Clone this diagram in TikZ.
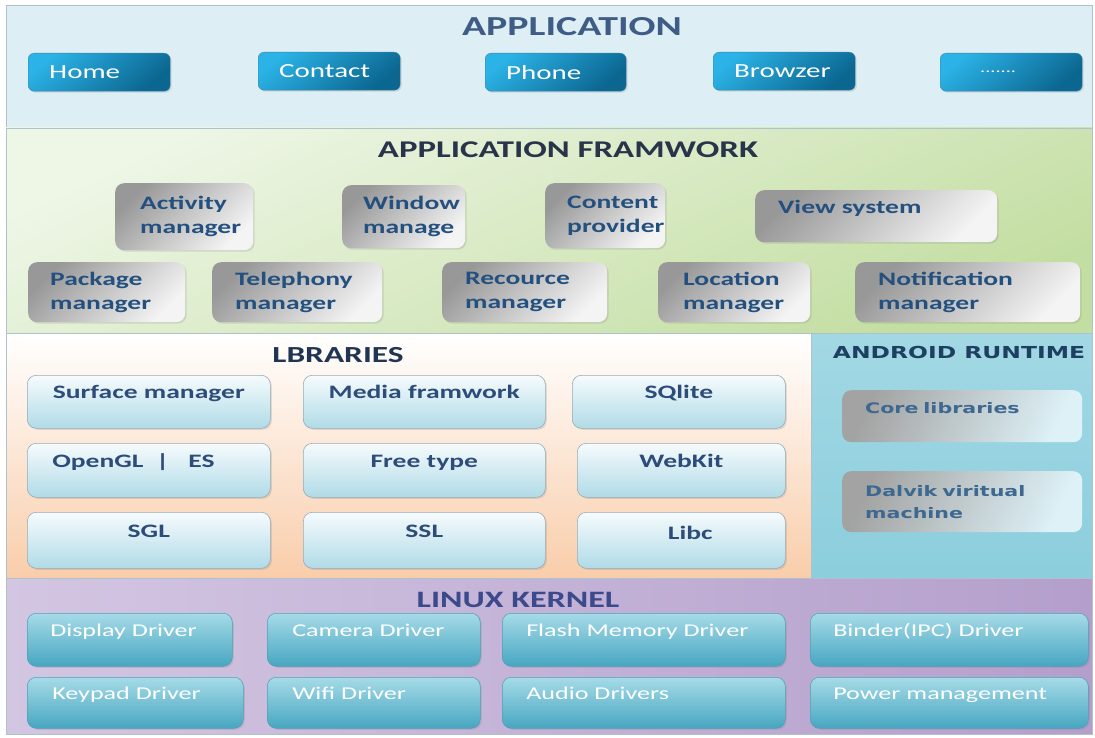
\documentclass[tikz,border=0pt]{standalone}
\usepackage{fontspec}
\setmainfont{Carlito}[FakeStretch=1.45]
\newfontfamily\verd{DejaVu Sans}[FakeStretch=1.42]
\usetikzlibrary{shadows}
\definecolor{appbg}{HTML}{DDEEF4}
\definecolor{layerln}{HTML}{AEC2CC}
\definecolor{appA}{HTML}{2BB2E6}
\definecolor{appB}{HTML}{0B6690}
\definecolor{appT}{HTML}{3E5C85}
\definecolor{fwbgA}{HTML}{EEF6E6}
\definecolor{fwbgB}{HTML}{C3DEA2}
\definecolor{fwA}{HTML}{989898}
\definecolor{fwB}{HTML}{F4F4F4}
\definecolor{fwT}{HTML}{29344A}
\definecolor{fwtxt}{HTML}{24507F}
\definecolor{libbgB}{HTML}{F9CDAA}
\definecolor{libA}{HTML}{F6FBFD}
\definecolor{libB}{HTML}{B0DBE7}
\definecolor{libln}{HTML}{93ADB8}
\definecolor{libT}{HTML}{1F3553}
\definecolor{libtxt}{HTML}{2D4C7A}
\definecolor{rtA}{HTML}{A2D8E4}
\definecolor{rtM}{HTML}{4DADC6}
\definecolor{rtB}{HTML}{8CCEDD}
\definecolor{rtT}{HTML}{1E4060}
\definecolor{rtboxA}{HTML}{A3A3A3}
\definecolor{rtboxB}{HTML}{DDF1F7}
\definecolor{rttxt}{HTML}{3D6890}
\definecolor{knA}{HTML}{D3C6E2}
\definecolor{knM}{HTML}{ECE7F3}
\definecolor{knB}{HTML}{B49FCC}
\definecolor{knT}{HTML}{3B4A8A}
\definecolor{knboxA}{HTML}{A6DBE7}
\definecolor{knboxB}{HTML}{47A6C1}
\definecolor{knln}{HTML}{4F9FB6}
\newcommand\bx[8][23]{%
  \pgfmathsetmacro\bxw{#6-#4}%
  \pgfmathsetmacro\bxh{#7-#5}%
  \pgfmathsetmacro\bxt{#6-#4-2*#1}%
  \node[#3, anchor=north west, inner xsep=#1pt, inner ysep=0pt,
        minimum width=\bxw pt, minimum height=\bxh pt, text width=\bxt pt]
        (#2) at (#4,#5) {#8};}
\tikzset{
  shd/.style={drop shadow={opacity=0.22, shadow xshift=1.5pt, shadow yshift=-1.5pt}},
  appbox/.style={rounded corners=6pt, top color=appA, bottom color=appB, shading angle=40,
     draw=appB!80, line width=0.4pt, shd, text=white, align=left,
     font=\fontsize{20}{24}\selectfont},
  fwbox/.style={rounded corners=9pt, top color=fwA, bottom color=fwB, shading angle=45,
     shd, text=fwtxt, align=left, font=\bfseries\fontsize{19}{24}\selectfont},
  libbox/.style={rounded corners=9pt, top color=libA, bottom color=libB,
     draw=libln, line width=0.6pt, shd, text=libtxt, align=center,
     text height=10pt, text depth=16pt, font=\bfseries\fontsize{19}{23}\selectfont},
  rtbox/.style={rounded corners=9pt, top color=rtboxA, bottom color=rtboxB, shading angle=65,
     text=rttxt, align=left, font=\verd\bfseries\fontsize{14.5}{22}\selectfont},
  knbox/.style={rounded corners=9pt, top color=knboxA, bottom color=knboxB,
     draw=knln, line width=0.5pt, shd, text=white, align=left,
     text height=10pt, text depth=16pt, font=\fontsize{18}{22}\selectfont},
  raised/.style={text height=10pt, text depth=16pt},
  ttl/.style={inner sep=0pt},
  every node/.append style={execute at begin node={\hyphenpenalty=10000 }}
}
\begin{document}
\begin{tikzpicture}[x=1pt,y=-1pt]
\useasboundingbox (0,0) rectangle (1095,738);
\fill[white] (0,0) rectangle (1095,738);
% layers
\filldraw[fill=appbg, draw=layerln] (6,5) rectangle (1092,128);
\shade[top color=fwbgA, bottom color=fwbgB, shading angle=25] (6,128) rectangle (1092,333);
\draw[layerln] (6,128) rectangle (1092,333);
\shade[top color=white, bottom color=libbgB] (6,333) rectangle (811,578);
\draw[layerln] (6,333) rectangle (811,578);
\shade[top color=rtA, middle color=rtM, bottom color=rtB] (811,333) rectangle (1092,578);
\draw[layerln] (811,333) rectangle (1092,578);
\shade[left color=knA, middle color=knM, right color=knB] (6,578) rectangle (1092,734);
\draw[layerln] (6,578) rectangle (1092,734);
% titles
\node[ttl, text=appT, font=\bfseries\fontsize{27.5}{30}\selectfont] (tapp) at (572,27) {APPLICATION};
\node[ttl, text=fwT, font=\bfseries\fontsize{24}{26}\selectfont] (tfw) at (568,150) {APPLICATION FRAMWORK};
\node[ttl, text=libT, font=\bfseries\fontsize{23}{26}\selectfont] (tlib) at (338,355) {LBRARIES};
\node[ttl, text=rtT, font=\verd\bfseries\fontsize{16.5}{18}\selectfont] (trt) at (959,352) {ANDROID RUNTIME};
\node[ttl, text=knT, font=\bfseries\fontsize{23.5}{26}\selectfont] (tkn) at (518,600) {LINUX KERNEL};
% application
\bx[21]{home}{appbox}{28}{53}{170}{91}{Home}
\bx[21]{contact}{appbox}{258}{52}{400}{90}{Contact}
\bx[21]{phone}{appbox}{485}{53}{626}{91}{Phone}
\bx[21]{browzer}{appbox}{713}{52}{855}{90}{Browzer}
\bx[40]{more}{appbox}{940}{53}{1082}{91}{\fontsize{14}{16}\selectfont.......}
% framework
\bx[25]{activity}{fwbox}{115}{183}{253}{250}{Activity\\manager}
\bx[21]{window}{fwbox}{342}{185}{465}{248}{Window\\manage}
\bx[22]{content}{fwbox}{545}{183}{665}{248}{Content\\provider}
\bx[23]{view}{fwbox,raised}{755}{190}{997}{242}{View system}
\bx[22]{package}{fwbox}{28}{262}{185}{322}{Package\\manager}
\bx[23]{telephony}{fwbox}{212}{262}{382}{322}{Telephony\\manager}
\bx[23]{recource}{fwbox}{442}{262}{607}{322}{Recource\\manager}
\bx[25]{location}{fwbox}{658}{262}{810}{322}{Location\\manager}
\bx[23]{notification}{fwbox}{855}{262}{1080}{322}{Notification\\manager}
% libraries
\bx[10]{surface}{libbox}{27}{375}{270}{428}{Surface manager}
\bx[10]{media}{libbox}{303}{375}{545}{428}{Media framwork}
\bx[10]{sqlite}{libbox}{572}{375}{785}{428}{SQlite}
\bx[25]{opengl}{libbox,align=left}{27}{443}{270}{497}{OpenGL \ \textbar\quad ES}
\bx[10]{freetype}{libbox}{303}{443}{545}{497}{Free type}
\bx[10]{webkit}{libbox}{577}{443}{785}{497}{WebKit}
\bx[10]{sgl}{libbox}{27}{512}{270}{568}{SGL}
\bx[10]{ssl}{libbox}{303}{512}{545}{568}{SSL}
\bx[10]{libc}{libbox,text depth=12pt}{577}{512}{785}{568}{\hspace*{18pt}Libc}
% runtime
\bx[23]{core}{rtbox,raised}{842}{390}{1082}{442}{Core libraries}
\bx[23]{dalvik}{rtbox}{842}{471}{1082}{532}{Dalvik viritual\\machine}
% kernel
\bx[23]{display}{knbox}{27}{613}{232}{666}{Display Driver}
\bx[25]{camera}{knbox}{267}{613}{480}{666}{Camera Driver}
\bx[24]{flash}{knbox}{502}{613}{785}{666}{Flash Memory Driver}
\bx[23]{binder}{knbox}{810}{613}{1088}{666}{Binder(IPC) Driver}
\bx[25]{keypad}{knbox}{27}{677}{243}{728}{Keypad Driver}
\bx[25]{wifi}{knbox}{267}{677}{480}{728}{Wifi Driver}
\bx[24]{audio}{knbox}{502}{677}{785}{728}{Audio Drivers}
\bx[23]{power}{knbox}{810}{677}{1088}{728}{Power management}
\end{tikzpicture}
\end{document}
